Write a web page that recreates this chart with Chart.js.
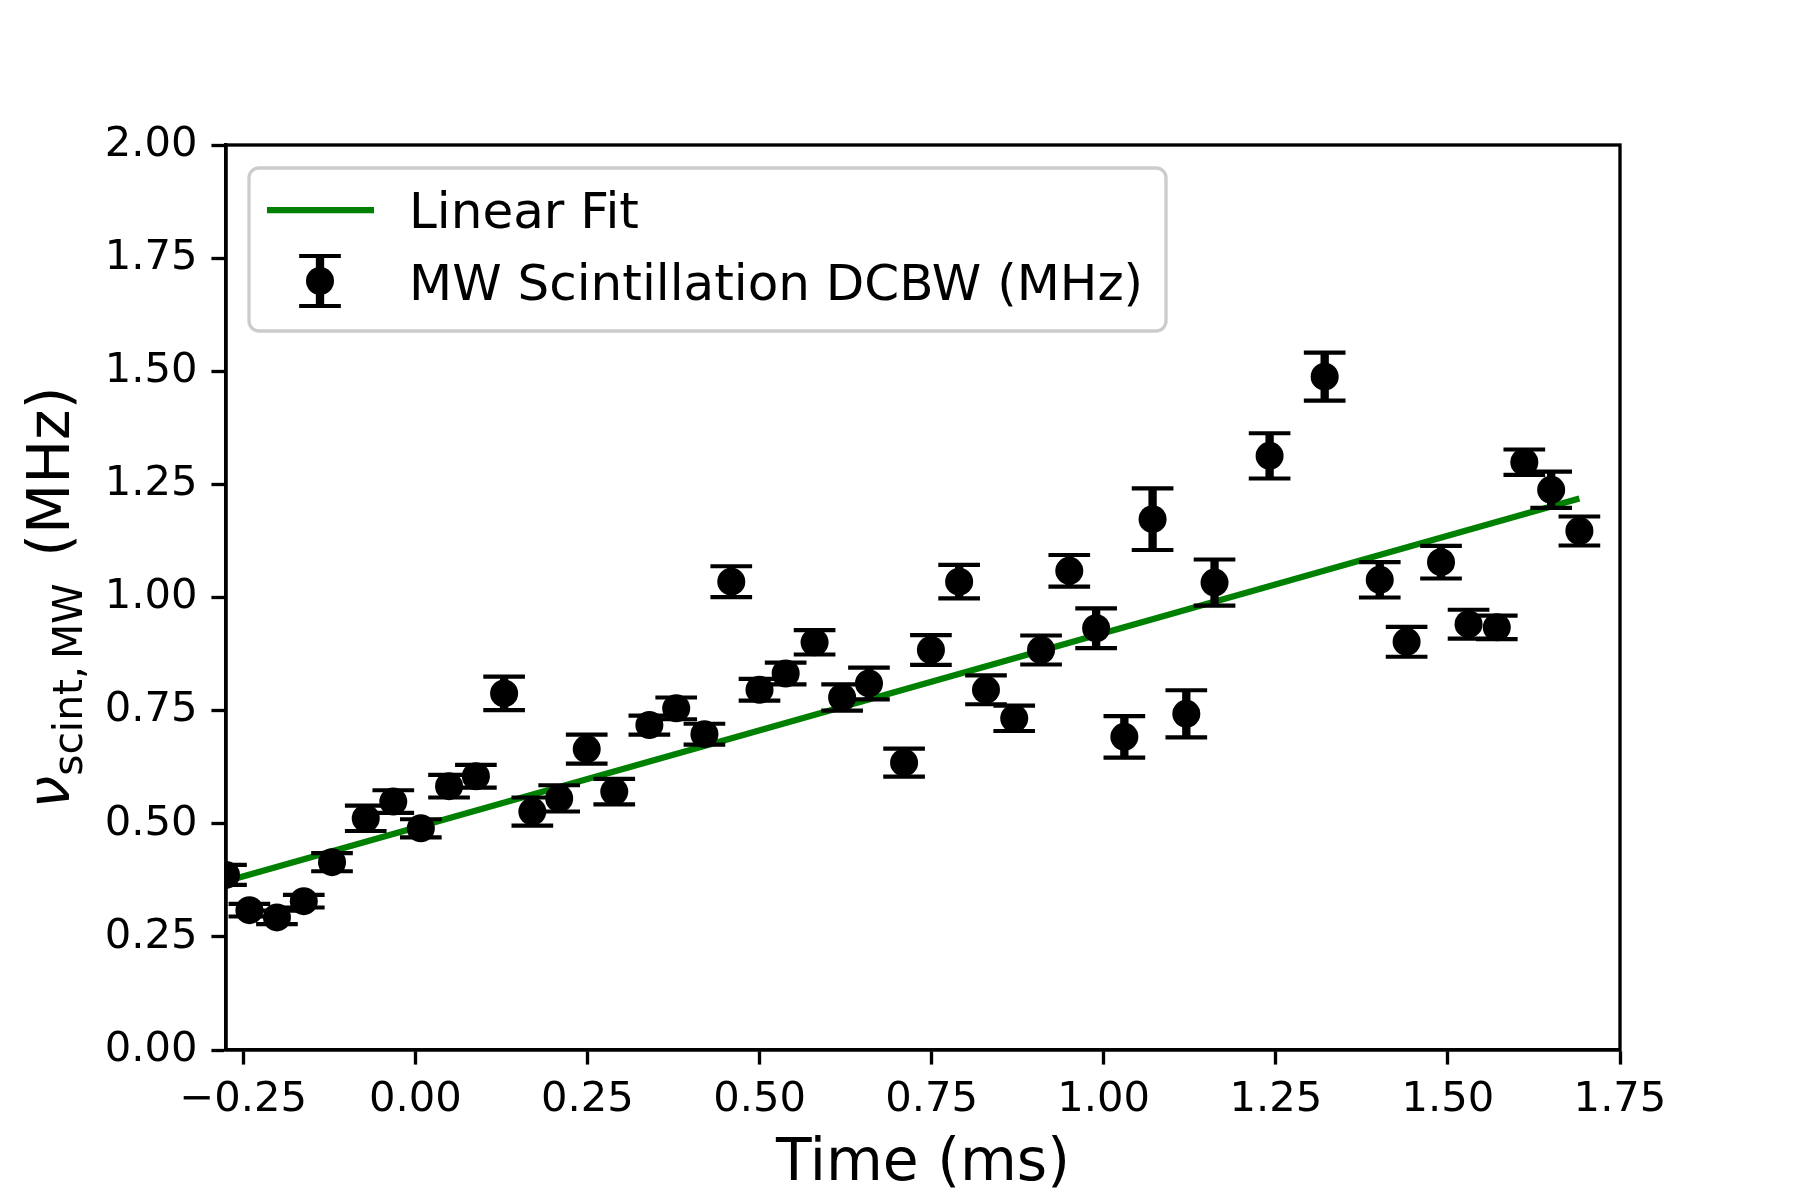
<!DOCTYPE html>
<html>
<head>
<meta charset="utf-8">
<script src="https://cdn.jsdelivr.net/npm/chart.js@4.4.1/dist/chart.umd.min.js"></script>
<style>
  html, body { margin: 0; padding: 0; background: #fff; }
  #wrap { width: 1800px; height: 1200px; }
</style>
</head>
<body>
<div id="wrap"><canvas id="scintChart" width="1800" height="1200"></canvas></div>
<script>
// values
const timeMs = [-0.275, -0.241, -0.201, -0.162, -0.121, -0.072, -0.032, 0.008, 0.049, 0.088,
  0.129, 0.170, 0.209, 0.249, 0.289, 0.340, 0.379, 0.420, 0.459, 0.500,
  0.538, 0.580, 0.620, 0.659, 0.710, 0.749, 0.790, 0.829, 0.870, 0.909,
  0.950, 0.989, 1.030, 1.071, 1.120, 1.161, 1.241, 1.321, 1.401, 1.440,
  1.490, 1.530, 1.571, 1.611, 1.650, 1.691];
const dcbw = [0.387, 0.309, 0.293, 0.329, 0.415, 0.512, 0.549, 0.490, 0.583, 0.605,
  0.788, 0.527, 0.556, 0.665, 0.571, 0.718, 0.755, 0.698, 1.035, 0.796,
  0.832, 0.901, 0.779, 0.810, 0.635, 0.884, 1.035, 0.796, 0.733, 0.884,
  1.059, 0.932, 0.692, 1.173, 0.743, 1.033, 1.313, 1.488, 1.039, 0.902,
  1.078, 0.941, 0.934, 1.299, 1.238, 1.147];
const dcbwErr = [0.022, 0.014, 0.015, 0.014, 0.020, 0.028, 0.025, 0.020, 0.025, 0.025,
  0.037, 0.031, 0.029, 0.032, 0.028, 0.021, 0.024, 0.023, 0.034, 0.024,
  0.024, 0.027, 0.029, 0.035, 0.031, 0.033, 0.037, 0.032, 0.028, 0.032,
  0.035, 0.044, 0.046, 0.068, 0.052, 0.051, 0.050, 0.053, 0.039, 0.033,
  0.036, 0.032, 0.026, 0.028, 0.040, 0.032];
const fitTime = [-0.275, 1.691];
const fitDcbw = [0.373, 1.219];
const xTicks = [-0.25, 0, 0.25, 0.5, 0.75, 1, 1.25, 1.5, 1.75];
const yTicks = [0, 0.25, 0.5, 0.75, 1, 1.25, 1.5, 1.75, 2];

const PT = 300 / 72; // points -> px (figure saved at 300 dpi)
const FONT = '"DejaVu Sans"';
Chart.defaults.font.family = FONT;
Chart.defaults.color = "#000";

const fmt = v => (v < 0 ? "\u2212" : "") + Math.abs(v).toFixed(2);

// vertical error bars with caps, drawn just before the points
const errorBars = {
  id: "errorBars",
  beforeDatasetDraw(chart, args) {
    const ds = chart.data.datasets[args.index];
    if (!ds.errors) return;
    const { ctx, chartArea: a, scales } = chart;
    const cap = 5 * PT;
    ctx.save();
    ctx.beginPath();
    ctx.rect(a.left, a.top, a.right - a.left, a.bottom - a.top);
    ctx.clip();
    ctx.strokeStyle = "#000";
    ds.data.forEach((p, i) => {
      const x = scales.x.getPixelForValue(p.x);
      const lo = scales.y.getPixelForValue(p.y - ds.errors[i]);
      const hi = scales.y.getPixelForValue(p.y + ds.errors[i]);
      ctx.lineWidth = 2 * PT;
      ctx.beginPath(); ctx.moveTo(x, lo); ctx.lineTo(x, hi); ctx.stroke();
      ctx.lineWidth = PT;
      ctx.beginPath();
      ctx.moveTo(x - cap, lo); ctx.lineTo(x + cap, lo);
      ctx.moveTo(x - cap, hi); ctx.lineTo(x + cap, hi);
      ctx.stroke();
    });
    ctx.restore();
  }
};

// top/right spines, rotated y label with subscript, legend box
const decorations = {
  id: "decorations",
  afterDraw(chart) {
    const { ctx, chartArea: a } = chart;
    ctx.save();
    ctx.strokeStyle = "#000";
    ctx.lineWidth = 0.8 * PT;
    ctx.strokeRect(a.left, a.top, a.right - a.left, a.bottom - a.top);

    // y label: nu_{scint, MW} (MHz)
    const big = 14 * PT, small = big * 0.7;
    ctx.fillStyle = "#000";
    ctx.textBaseline = "alphabetic";
    ctx.textAlign = "left";
    ctx.font = `italic ${big}px ${FONT}`;
    const wNu = ctx.measureText("\u03bd").width;
    ctx.font = `${small}px ${FONT}`;
    const wS1 = ctx.measureText("scint,").width;
    const gap = 0.17 * small;
    const wS2 = ctx.measureText("MW").width;
    ctx.font = `${big}px ${FONT}`;
    const wUnit = ctx.measureText(" (MHz)").width;
    const total = wNu + wS1 + gap + wS2 + 8 + wUnit;
    const cy = (a.top + a.bottom) / 2;
    ctx.translate(69, cy + total / 2);
    ctx.rotate(-Math.PI / 2);
    ctx.font = `italic ${big}px ${FONT}`;
    ctx.fillText("\u03bd", 0, 0);
    ctx.font = `${small}px ${FONT}`;
    ctx.fillText("scint,", wNu, 13);
    ctx.fillText("MW", wNu + wS1 + gap, 13);
    ctx.font = `${big}px ${FONT}`;
    ctx.fillText(" (MHz)", wNu + wS1 + gap + wS2 + 8, 0);
    ctx.restore();

    // legend
    const fitDs = chart.data.datasets[1], ptsDs = chart.data.datasets[0];
    const lx = a.left + 23, ly = a.top + 23, lw = 917, lh = 163;
    ctx.save();
    ctx.beginPath();
    ctx.roundRect(lx, ly, lw, lh, 10);
    ctx.fillStyle = "rgba(255,255,255,0.8)";
    ctx.fill();
    ctx.lineWidth = 0.8 * PT;
    ctx.strokeStyle = "#cccccc";
    ctx.stroke();

    const row1 = ly + 42, row2 = ly + 113;
    ctx.strokeStyle = fitDs.borderColor;
    ctx.lineWidth = 1.5 * PT;
    ctx.beginPath(); ctx.moveTo(lx + 18, row1); ctx.lineTo(lx + 125, row1); ctx.stroke();

    const mx = lx + 71, cap = 5 * PT;
    ctx.strokeStyle = "#000";
    ctx.lineWidth = 2 * PT;
    ctx.beginPath(); ctx.moveTo(mx, row2 - 25); ctx.lineTo(mx, row2 + 25); ctx.stroke();
    ctx.lineWidth = PT;
    ctx.beginPath();
    ctx.moveTo(mx - cap, row2 - 25); ctx.lineTo(mx + cap, row2 - 25);
    ctx.moveTo(mx - cap, row2 + 25); ctx.lineTo(mx + cap, row2 + 25);
    ctx.stroke();
    ctx.fillStyle = "#000";
    ctx.beginPath(); ctx.arc(mx, row2, 14, 0, Math.PI * 2); ctx.fill();

    ctx.font = `${12 * PT}px ${FONT}`;
    ctx.textBaseline = "alphabetic";
    ctx.fillText(fitDs.label, lx + 160, row1 + 18);
    ctx.fillText(ptsDs.label, lx + 160, row2 + 19);
    ctx.restore();
  }
};

const tickGrid = {
  drawOnChartArea: false,
  drawTicks: true,
  tickLength: 3.5 * PT,
  tickWidth: 0.8 * PT,
  tickColor: "#000"
};

const ctx = document.getElementById("scintChart").getContext("2d");
new Chart(ctx, {
  type: "scatter",
  data: {
    datasets: [{
      label: "MW Scintillation DCBW (MHz)",
      data: timeMs.map((t, i) => ({ x: t, y: dcbw[i] })),
      errors: dcbwErr,
      pointRadius: 14,
      pointHoverRadius: 14,
      pointBorderWidth: 0,
      backgroundColor: "#000",
      borderColor: "#000",
      clip: 0
    }, {
      label: "Linear Fit",
      data: fitTime.map((t, i) => ({ x: t, y: fitDcbw[i] })),
      showLine: true,
      borderColor: "#008000",
      borderWidth: 1.5 * PT,
      pointRadius: 0,
      pointHoverRadius: 0,
      clip: 0
    }]
  },
  options: {
    responsive: false,
    animation: false,
    devicePixelRatio: 1,
    events: [],
    layout: { padding: { top: 145, right: 180, bottom: 0, left: 0 } },
    plugins: { legend: { display: false }, tooltip: { enabled: false } },
    scales: {
      x: {
        type: "linear",
        min: -0.275,
        max: 1.75,
        afterBuildTicks: axis => { axis.ticks = xTicks.map(v => ({ value: v })); },
        afterFit: axis => { axis.height = 150; },
        ticks: { callback: v => fmt(v), font: { size: 10 * PT }, color: "#000", padding: 11, maxRotation: 0, autoSkip: false },
        grid: tickGrid,
        border: { display: true, color: "#000", width: 0.8 * PT },
        title: { display: true, text: "Time (ms)", font: { size: 14 * PT }, color: "#000", padding: 0 }
      },
      y: {
        type: "linear",
        min: 0,
        max: 2,
        afterBuildTicks: axis => { axis.ticks = yTicks.map(v => ({ value: v })); },
        afterFit: axis => { axis.width = 226; },
        ticks: { callback: v => fmt(v), font: { size: 10 * PT }, color: "#000", padding: 14, autoSkip: false },
        grid: tickGrid,
        border: { display: true, color: "#000", width: 0.8 * PT }
      }
    }
  },
  plugins: [errorBars, decorations]
});
</script>
</body>
</html>
